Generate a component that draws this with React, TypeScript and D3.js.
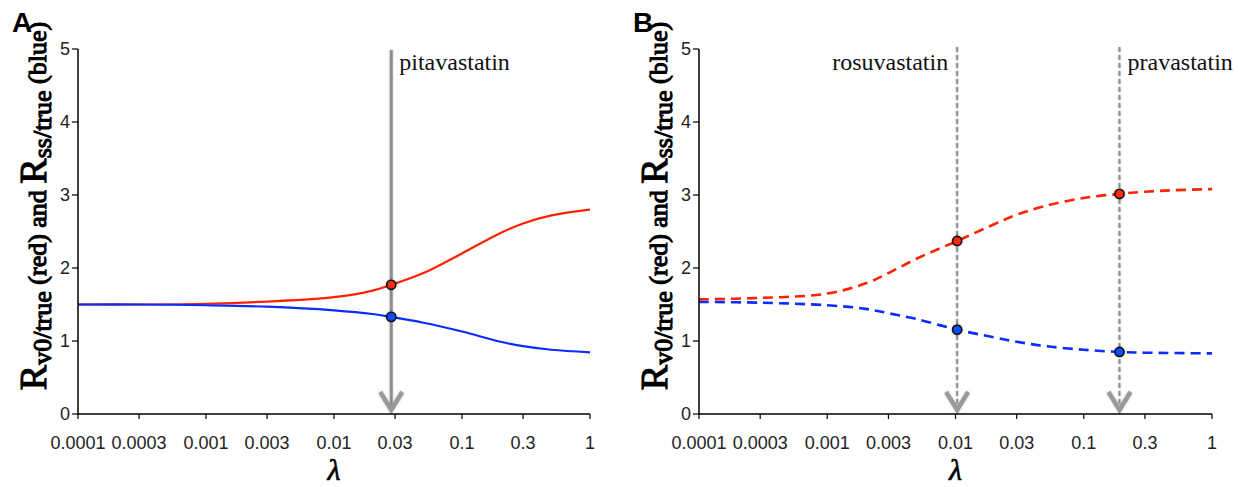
import React from 'react';
import * as d3 from 'd3';

// Shared axis ticks
const xTickValues = [0.0001, 0.0003, 0.001, 0.003, 0.01, 0.03, 0.1, 0.3, 1];
const xTickLabels = ['0.0001', '0.0003', '0.001', '0.003', '0.01', '0.03', '0.1', '0.3', '1'];
const yTickValues = [0, 1, 2, 3, 4, 5];

// Panel A: continuous curves
const lambdaA = [0.0001, 0.0003, 0.001, 0.003, 0.01, 0.02, 0.028, 0.05, 0.1, 0.2, 0.3, 0.5, 1];
const redA = [1.5, 1.5, 1.51, 1.54, 1.6, 1.69, 1.77, 1.93, 2.2, 2.48, 2.61, 2.72, 2.8];
const blueA = [1.5, 1.5, 1.49, 1.47, 1.42, 1.37, 1.33, 1.25, 1.13, 0.99, 0.93, 0.88, 0.845];
const drugNamesA = ['pitavastatin'];
const drugLambdaA = [0.028];
const drugRedA = [1.77];
const drugBlueA = [1.33];
const drugSideA = ['right'];

// Panel B: dashed curves
const lambdaB = [0.0001, 0.0003, 0.001, 0.002, 0.003, 0.005, 0.0103, 0.02, 0.03, 0.05, 0.1, 0.19, 0.3, 0.5, 1];
const redB = [1.57, 1.59, 1.65, 1.79, 1.93, 2.13, 2.37, 2.6, 2.73, 2.85, 2.96, 3.015, 3.045, 3.065, 3.08];
const blueB = [1.535, 1.525, 1.49, 1.44, 1.38, 1.3, 1.155, 1.05, 0.99, 0.93, 0.88, 0.85, 0.84, 0.835, 0.83];
const drugNamesB = ['rosuvastatin', 'pravastatin'];
const drugLambdaB = [0.0103, 0.19];
const drugRedB = [2.37, 3.015];
const drugBlueB = [1.155, 0.85];
const drugSideB = ['left', 'right'];

const RED = '#ff2200';
const BLUE = '#0a2cff';
const GREY = '#8e8e8e';
const SANS = '"Liberation Sans", Arial, Helvetica, sans-serif';
const SERIF = '"Liberation Serif", "Times New Roman", Times, serif';

const Y_TOP = 49;
const Y_BOTTOM = 414;

type PanelProps = {
  letter: string;
  x0: number;
  x1: number;
  lambda: number[];
  red: number[];
  blue: number[];
  names: string[];
  drugLambda: number[];
  drugRed: number[];
  drugBlue: number[];
  sides: string[];
  dashed: boolean;
};

function Panel(p: PanelProps) {
  const x = d3.scaleLog().domain([1e-4, 1]).range([p.x0, p.x1]);
  const y = d3.scaleLinear().domain([0, 5]).range([Y_BOTTOM, Y_TOP]);
  const mk = (vals: number[]) =>
    d3
      .line<number>()
      .x((_, i) => x(p.lambda[i]))
      .y((d) => y(d))
      .curve(d3.curveCatmullRom.alpha(0.5))(vals) || '';
  const cx = (p.x0 + p.x1) / 2;
  const labelX = p.x0 - 32;
  const labelY = 206;
  return (
    <g>
      <text x={p.x0 - 66} y={32} fontFamily={SANS} fontWeight="bold" fontSize={28} fill="#000">
        {p.letter}
      </text>

      {/* y-axis title, emboldened with a thin outline */}
      <text
        transform={`translate(${labelX},${labelY}) rotate(-90)`}
        textAnchor="middle"
        fontFamily={SERIF}
        fontSize={26}
        fill="#000"
        stroke="#000"
        strokeWidth={1.1}
      >
        <tspan fontSize={38}>R</tspan>
        <tspan dy={5}>v0/true</tspan>
        <tspan dy={-5}> (red) and </tspan>
        <tspan fontSize={38}>R</tspan>
        <tspan dy={5}>ss/true</tspan>
        <tspan dy={-5}> (blue)</tspan>
      </text>

      {/* x-axis title */}
      <text
        x={cx}
        y={480}
        textAnchor="middle"
        fontFamily={SERIF}
        fontStyle="italic"
        fontSize={30}
        fill="#000"
        stroke="#000"
        strokeWidth={0.7}
      >
        λ
      </text>

      {/* marker lines with arrow heads */}
      {p.drugLambda.map((l, i) => {
        const lx = x(l);
        return (
          <g key={'m' + i} filter="url(#soft)">
            <line
              x1={lx}
              x2={lx}
              y1={p.dashed ? 47 : 50}
              y2={409}
              stroke={GREY}
              strokeWidth={p.dashed ? 2 : 3}
              strokeDasharray={p.dashed ? '5,3' : undefined}
            />
            <path
              d={`M${lx - 11},${392} L${lx},${410} L${lx + 11},${392}`}
              fill="none"
              stroke="#9a9a9a"
              strokeWidth={4.5}
              strokeLinejoin="miter"
            />
          </g>
        );
      })}

      {p.names.map((n, i) => {
        const lx = x(p.drugLambda[i]);
        const right = p.sides[i] === 'right';
        return (
          <text
            key={'n' + i}
            x={right ? lx + 8 : lx - 9}
            y={70}
            textAnchor={right ? 'start' : 'end'}
            fontFamily={SERIF}
            fontSize={24}
            fill="#111"
          >
            {n}
          </text>
        );
      })}

      {/* curves */}
      <path d={mk(p.red)} fill="none" stroke={RED} strokeWidth={p.dashed ? 2.6 : 2.2} strokeDasharray={p.dashed ? '10,6' : undefined} />
      <path d={mk(p.blue)} fill="none" stroke={BLUE} strokeWidth={p.dashed ? 2.6 : 2.2} strokeDasharray={p.dashed ? '10,6' : undefined} />

      {/* drug points */}
      {p.drugLambda.map((l, i) => (
        <g key={'d' + i} filter="url(#soft)">
          <circle cx={x(l)} cy={y(p.drugRed[i])} r={4.6} fill="#ff2a0a" stroke="#111" strokeWidth={1.6} />
          <circle cx={x(l)} cy={y(p.drugBlue[i])} r={4.6} fill="#0a4dff" stroke="#111" strokeWidth={1.6} />
        </g>
      ))}

      {/* axes */}
      <path d={`M${p.x0},${Y_TOP} V${Y_BOTTOM} H${p.x1}`} fill="none" stroke="#000" strokeWidth={1.5} />
      {yTickValues.map((v) => (
        <g key={'y' + v}>
          <line x1={p.x0 - 6} x2={p.x0} y1={y(v)} y2={y(v)} stroke="#000" strokeWidth={1.2} />
          <text x={p.x0 - 8} y={y(v)} dy="0.36em" textAnchor="end" fontFamily={SANS} fontSize={18} fill="#222">
            {v}
          </text>
        </g>
      ))}
      {xTickValues.map((v, i) => (
        <g key={'x' + i}>
          <line x1={x(v)} x2={x(v)} y1={Y_BOTTOM} y2={Y_BOTTOM + 5} stroke="#000" strokeWidth={1.2} />
          <text x={x(v)} y={449} textAnchor="middle" fontFamily={SANS} fontSize={18} fill="#222">
            {xTickLabels[i]}
          </text>
        </g>
      ))}
    </g>
  );
}

export default function App() {
  return (
    <div style={{ position: 'absolute', left: 0, top: 0 }}>
      <svg width={1244} height={487} style={{ display: 'block', background: '#fff' }}>
        <defs>
          <filter id="soft" x="-50%" y="-10%" width="200%" height="120%">
            <feDropShadow dx={0} dy={0} stdDeviation={1.2} floodColor="#000" floodOpacity={0.25} />
          </filter>
        </defs>
        <Panel
          letter="A"
          x0={78}
          x1={590}
          lambda={lambdaA}
          red={redA}
          blue={blueA}
          names={drugNamesA}
          drugLambda={drugLambdaA}
          drugRed={drugRedA}
          drugBlue={drugBlueA}
          sides={drugSideA}
          dashed={false}
        />
        <Panel
          letter="B"
          x0={699}
          x1={1212}
          lambda={lambdaB}
          red={redB}
          blue={blueB}
          names={drugNamesB}
          drugLambda={drugLambdaB}
          drugRed={drugRedB}
          drugBlue={drugBlueB}
          sides={drugSideB}
          dashed={true}
        />
      </svg>
    </div>
  );
}
